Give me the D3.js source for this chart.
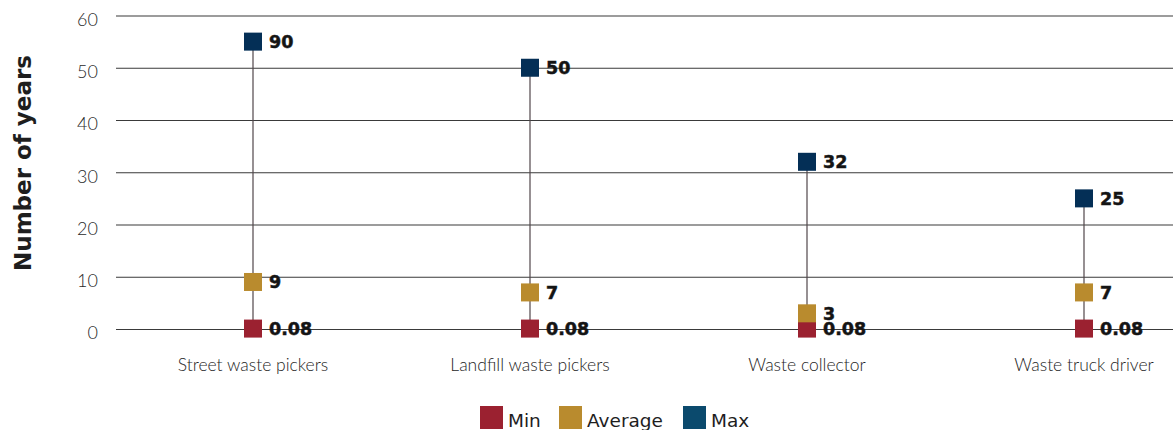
<!DOCTYPE html>
<html>
<head>
<meta charset="utf-8">
<script src="https://cdn.jsdelivr.net/npm/d3@7"></script>
<style>
  html, body { margin: 0; padding: 0; background: #fff; }
  svg { display: block; font-family: "Lato", "Noto Sans", sans-serif; }
</style>
</head>
<body>
<svg id="chart" width="1173" height="430"></svg>
<script>
// Years spent in each occupation: minimum, average and maximum
const categories = ["Street waste pickers", "Landfill waste pickers", "Waste collector", "Waste truck driver"];
const minYears = [0.08, 0.08, 0.08, 0.08];
const avgYears = [9, 7, 3, 7];
const maxYears = [90, 50, 32, 25];
const yTicks = [0, 10, 20, 30, 40, 50, 60];
const seriesNames = ["Min", "Average", "Max"];

// Values past the top of the axis are pinned just below it (axis break)
const axisTop = 60;
const pinnedAt = 55;

const svg = d3.select("#chart");
const W = 1173, H = 430;

const y = d3.scaleLinear().domain([0, axisTop]).range([329, 15.5]);
const x = d3.scaleBand().domain(categories).range([114.5, 1222.5]).padding(0);
const cx = c => x(c) + x.bandwidth() / 2;
const yv = v => y(v > axisTop ? pinnedAt : v);

const markerColors = { Min: "#9b2130", Average: "#b98b2e", Max: "#042f56" };
const legendColors = { Min: "#9b2130", Average: "#b98b2e", Max: "#0b4a6d" };

// Gridlines and tick labels
const yAxis = d3.axisLeft(y).tickValues(yTicks).tickSize(0).tickPadding(0);
const gAxis = svg.append("g").call(yAxis);
gAxis.select(".domain").remove();
gAxis.selectAll(".tick text")
  .attr("x", 98)
  .attr("dy", "0.55em")
  .attr("text-anchor", "end")
  .style("font-family", "Lato, sans-serif")
  .style("font-size", "18px")
  .style("font-weight", 300)
  .attr("fill", "#2a2a2a");
gAxis.selectAll(".tick").append("line")
  .attr("x1", 116).attr("x2", W)
  .attr("stroke", "#3a3a3a").attr("stroke-width", 1.1);

// Axis title
svg.append("text")
  .attr("transform", `translate(31,163) rotate(-90)`)
  .attr("text-anchor", "middle")
  .style("font-family", "DejaVu Sans, sans-serif")
  .style("font-size", "23px")
  .style("font-weight", 700)
  .attr("fill", "#1e1e1e")
  .text("Number of years");

// Category labels
svg.append("g").selectAll("text").data(categories).join("text")
  .attr("x", d => cx(d))
  .attr("y", 371)
  .attr("text-anchor", "middle")
  .style("font-size", "17.5px")
  .style("font-weight", 300)
  .attr("fill", "#1e1e1e")
  .text(d => d);

// Stems from min to max
const rows = categories.map((c, i) => ({ c, min: minYears[i], avg: avgYears[i], max: maxYears[i] }));
svg.append("g").selectAll("line").data(rows).join("line")
  .attr("x1", d => cx(d.c)).attr("x2", d => cx(d.c))
  .attr("y1", d => yv(d.min)).attr("y2", d => yv(d.max))
  .attr("stroke", "#51464a").attr("stroke-width", 1.2);

// Markers and value labels
const points = [];
rows.forEach(r => {
  points.push({ c: r.c, s: "Min", v: r.min });
  points.push({ c: r.c, s: "Average", v: r.avg });
  points.push({ c: r.c, s: "Max", v: r.max });
});
const size = 18;
const gPts = svg.append("g");
gPts.selectAll("rect").data(points).join("rect")
  .attr("x", d => cx(d.c) - size / 2)
  .attr("y", d => yv(d.v) - size / 2)
  .attr("width", size).attr("height", size)
  .attr("fill", d => markerColors[d.s]);
gPts.selectAll("text").data(points).join("text")
  .attr("x", d => cx(d.c) + 16)
  .attr("y", d => yv(d.v))
  .attr("dy", "0.36em")
  .style("font-family", "DejaVu Sans, sans-serif")
  .style("font-size", "17.5px")
  .style("font-weight", 700)
  .attr("fill", "#141414")
  .attr("stroke", "#141414")
  .attr("stroke-width", 0.5)
  .text(d => d3.format("~g")(d.v));

// Legend
const legendX = [480, 559, 683];
const gLeg = svg.append("g");
seriesNames.forEach((s, i) => {
  gLeg.append("rect")
    .attr("x", legendX[i]).attr("y", 406)
    .attr("width", 23).attr("height", 23)
    .attr("fill", legendColors[s]);
  gLeg.append("text")
    .attr("x", legendX[i] + 28).attr("y", 427)
    .style("font-family", "DejaVu Sans, sans-serif")
    .style("font-size", "18.5px")
    .attr("fill", "#1e1e1e")
    .text(s);
});
</script>
</body>
</html>
